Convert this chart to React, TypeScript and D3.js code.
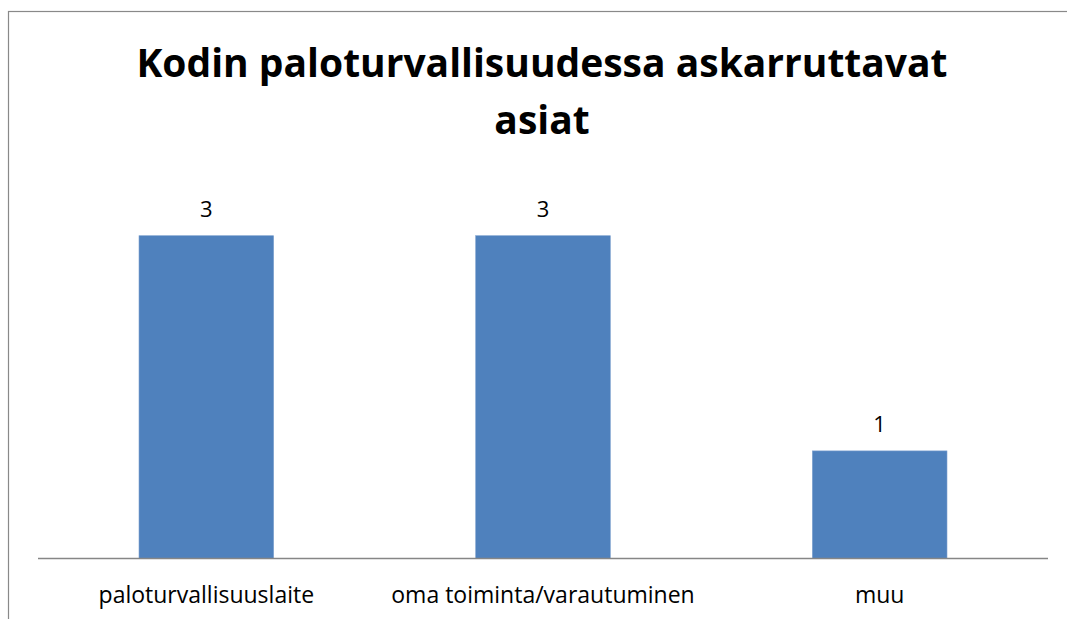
import React from "react";
import * as d3 from "d3";

const titleLines = ["Kodin paloturvallisuudessa askarruttavat", "asiat"];
const categories = ["paloturvallisuuslaite", "oma toiminta/varautuminen", "muu"];
const values = [3, 3, 1];

export default function App() {
  const W = 1067;
  const H = 619;
  const x = d3
    .scaleBand<string>()
    .domain(categories)
    .range([38, 1048])
    .paddingInner(0.6)
    .paddingOuter(0.3);
  const y = d3.scaleLinear().domain([0, 3]).range([558.5, 235.7]);
  const font = "'Open Sans', 'DejaVu Sans', sans-serif";

  return (
    <svg
      width={W}
      height={H}
      style={{ position: "absolute", left: 0, top: 0, background: "#fff" }}
    >
      <rect x={0} y={0} width={W} height={H} fill="#fff" />
      <rect
        x={8.5}
        y={11.5}
        width={1200}
        height={800}
        fill="none"
        stroke="#898989"
        strokeWidth={1.2}
      />
      {titleLines.map((t, i) => (
        <text
          key={t}
          x={542}
          y={77 + i * 56.5}
          textAnchor="middle"
          fontFamily={font}
          fontWeight="bold"
          fontSize={39}
          fill="#000"
        >
          {t}
        </text>
      ))}
      {categories.map((c, i) => (
        <g key={c}>
          <rect
            x={x(c)!}
            y={y(values[i])}
            width={x.bandwidth()}
            height={y(0) - y(values[i])}
            fill="#4F81BD"
            stroke="#7fa2cf"
            strokeWidth={0.6}
          />
          <text
            x={x(c)! + x.bandwidth() / 2}
            y={y(values[i]) - 19}
            textAnchor="middle"
            fontFamily={font}
            fontSize={22}
            fill="#000"
          >
            {values[i]}
          </text>
          <text
            x={x(c)! + x.bandwidth() / 2}
            y={603}
            textAnchor="middle"
            fontFamily={font}
            fontSize={23}
            fill="#000"
          >
            {c}
          </text>
        </g>
      ))}
      <line
        x1={38}
        x2={1048}
        y1={y(0)}
        y2={y(0)}
        stroke="#868686"
        strokeWidth={1.5}
      />
    </svg>
  );
}
